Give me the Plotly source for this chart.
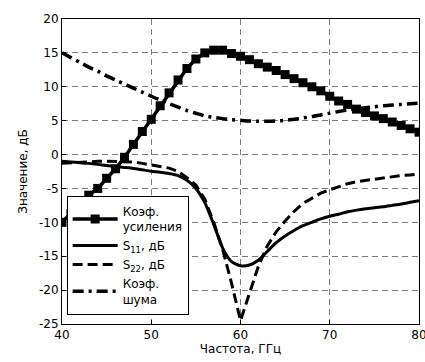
import plotly.graph_objects as go

freq = list(range(40, 81))

gain = [-10.0, -8.7, -7.3, -6.0, -5.0, -3.5, -2.1, -0.4, 1.5, 3.4,
        5.2, 7.2, 9.1, 11.0, 12.7, 14.1, 15.0, 15.4, 15.4, 14.9,
        14.5, 14.0, 13.4, 12.9, 12.4, 11.8, 11.2, 10.6, 10.0, 9.4,
        8.6, 7.9, 7.4, 6.7, 6.2, 5.7, 5.3, 4.8, 4.3, 3.8, 3.3]

s11 = [-1.0, -1.1, -1.2, -1.3, -1.45, -1.6, -1.75, -1.9, -2.05, -2.25,
       -2.45, -2.6, -2.8, -3.1, -3.8, -5.0, -7.1, -10.3, -13.8, -15.8,
       -16.4, -16.3, -15.6, -14.3, -13.0, -12.0, -11.2, -10.5, -10.0, -9.5,
       -9.1, -8.8, -8.45, -8.2, -8.0, -7.85, -7.7, -7.5, -7.3, -7.05, -6.8]

s22 = [-1.3, -1.2, -1.1, -1.0, -1.0, -1.0, -1.0, -1.0, -1.1, -1.3,
       -1.5, -1.7, -2.0, -2.5, -3.4, -4.5, -6.6, -10.0, -14.0, -19.0,
       -24.5, -20.5, -16.5, -13.5, -11.4, -9.8, -8.4, -7.2, -6.4, -5.7,
       -5.2, -4.7, -4.3, -4.0, -3.8, -3.6, -3.4, -3.25, -3.1, -3.0, -2.9]

noise = [15.0, 14.3, 13.6, 12.9, 12.3, 11.6, 11.0, 10.4, 9.8, 9.2,
         8.6, 8.05, 7.5, 7.0, 6.5, 6.1, 5.7, 5.5, 5.3, 5.15,
         5.05, 4.95, 4.9, 4.9, 4.95, 5.05, 5.2, 5.4, 5.6, 5.85,
         6.1, 6.35, 6.6, 6.75, 6.9, 7.05, 7.2, 7.3, 7.4, 7.5, 7.6]

names = ["Коэф.<br>усиления", "S<sub>11</sub>, дБ", "S<sub>22</sub>, дБ", "Коэф.<br>шума"]

x_ticks = [40, 50, 60, 70, 80]
y_ticks = [-25, -20, -15, -10, -5, 0, 5, 10, 15, 20]
y_ticktext = ["-25", "-20", "-15", "-10", "-5", "0", "5", "10", "15", "20"]

FONT = "DejaVu Sans, Liberation Sans, Arial, sans-serif"

fig = go.Figure()
fig.add_trace(go.Scatter(x=freq, y=gain, name=names[0], mode="lines+markers",
                         line=dict(color="black", width=3.5),
                         marker=dict(symbol="square", size=9, color="black")))
fig.add_trace(go.Scatter(x=freq, y=s11, name=names[1], mode="lines",
                         line=dict(color="black", width=3, shape="spline", smoothing=0.6)))
fig.add_trace(go.Scatter(x=freq, y=s22, name=names[2], mode="lines",
                         line=dict(color="black", width=3, dash="10px,5px")))
fig.add_trace(go.Scatter(x=freq, y=noise, name=names[3], mode="lines",
                         line=dict(color="black", width=3.5, dash="11px,5px,3px,5px",
                                   shape="spline", smoothing=0.6)))

axis_common = dict(showline=True, linecolor="black", linewidth=1, mirror=True,
                   ticks="inside", ticklen=4, tickcolor="black",
                   showgrid=True, gridcolor="#7a7a7a", gridwidth=1, griddash="6px,4px",
                   zeroline=False, tickfont=dict(family=FONT, size=12, color="black"),
                   ticklabeloverflow="allow", automargin=False)

fig.update_xaxes(range=[40, 80], tickvals=x_ticks, **axis_common,
                 title=dict(text="Частота, ГГц", font=dict(family=FONT, size=12, color="black"),
                            standoff=0))
fig.update_yaxes(range=[-25, 20], tickvals=y_ticks, ticktext=y_ticktext, **axis_common,
                 title=dict(text="Значение, дБ", font=dict(family=FONT, size=12, color="black"),
                            standoff=8))

fig.update_layout(
    width=425, height=362,
    margin=dict(l=62, r=6, t=19, b=38),
    paper_bgcolor="white", plot_bgcolor="white",
    font=dict(family=FONT, size=12, color="black"),
    legend=dict(x=0.013, y=0.42, xanchor="left", yanchor="top",
                bgcolor="white", bordercolor="black", borderwidth=1,
                font=dict(family=FONT, size=12, color="black"), itemwidth=45,
                tracegroupgap=0),
    showlegend=True,
)

fig.write_html("out.html", config={"displayModeBar": False},
               post_script="document.body.style.margin='0';")
